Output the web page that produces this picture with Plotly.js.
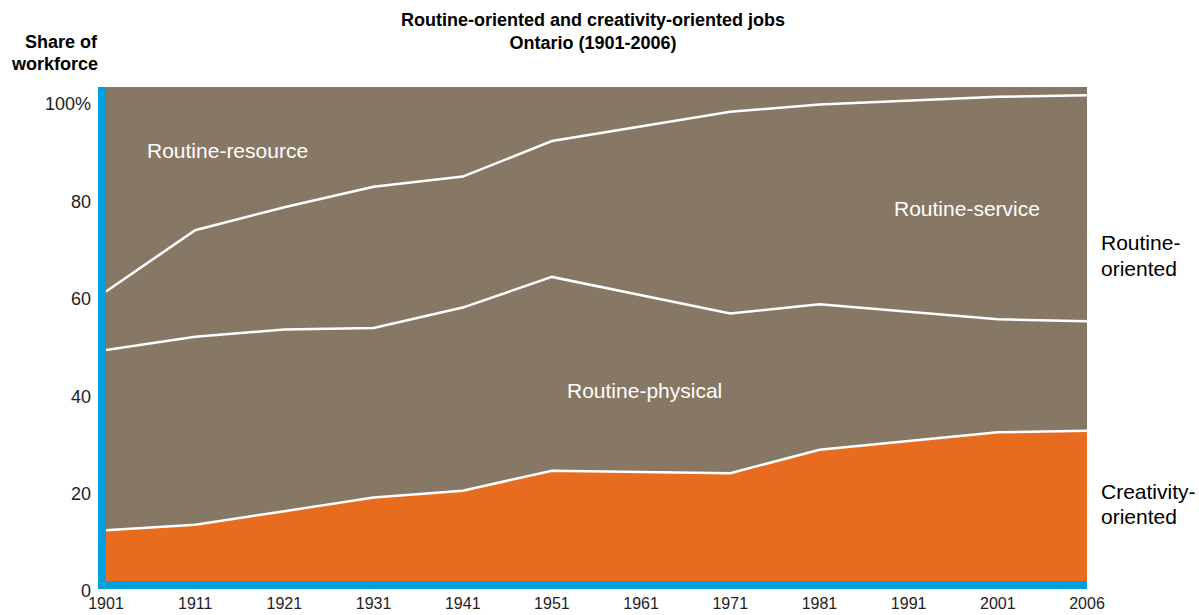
<!DOCTYPE html>
<html>
<head>
<meta charset="utf-8">
<script src="https://cdn.plot.ly/plotly-3.0.1.min.js"></script>
<style>
  html, body { margin: 0; padding: 0; background: #ffffff; }
  #chart { width: 1199px; height: 615px; }
</style>
</head>
<body>
<div id="chart"></div>
<script>
// Tick labels along the x axis (equally spaced census years)
var yearLabels = ['1901','1911','1921','1931','1941','1951','1961','1971','1981','1991','2001','2006'];
// Years with data points
var dataYears = ['1901','1911','1921','1931','1941','1951','1971','1981','2001','2006'];
// Shares of workforce (%), stacked from the bottom
var creativity = [12.5, 13.6, 16.4, 19.2, 20.6, 24.7, 24.2, 29.0, 32.6, 32.9];
var routinePhysical = [37.0, 38.6, 37.3, 34.8, 37.6, 39.8, 32.8, 29.9, 23.2, 22.5];
var routineService = [12.0, 21.9, 25.1, 29.0, 26.9, 27.9, 41.4, 41.0, 45.7, 46.4];
// y tick labels
var yTickVals = [0, 20, 40, 60, 80, 100];
var yTickText = ['0', '20', '40', '60', '80', '100%'];

var BROWN = '#877866';
var ORANGE = '#E86C1F';
var BLUE = '#009FDF';
var FONT = '"Liberation Sans", Arial, Helvetica, sans-serif';

var xPos = dataYears.map(function (y) { return yearLabels.indexOf(y); });

var lineStyle = { color: '#ffffff', width: 2.5, shape: 'linear' };

var traces = [
  { x: xPos, y: creativity, type: 'scatter', mode: 'lines', stackgroup: 'one',
    name: 'Creativity-oriented', fillcolor: ORANGE, line: lineStyle, hoverinfo: 'skip' },
  { x: xPos, y: routinePhysical, type: 'scatter', mode: 'lines', stackgroup: 'one',
    name: 'Routine-physical', fillcolor: 'rgba(0,0,0,0)', line: lineStyle, hoverinfo: 'skip' },
  { x: xPos, y: routineService, type: 'scatter', mode: 'lines', stackgroup: 'one',
    name: 'Routine-service', fillcolor: 'rgba(0,0,0,0)', line: lineStyle, hoverinfo: 'skip' }
];

var L = 106, R = 112, T = 87, B = 24, W = 1199, H = 615;
var PW = W - L - R, PH = H - T - B;
var YMAX = 103.5;
function px(x) { return (x - L) / PW; }
function py(y) { return (H - B - y) / PH; }
function vy(y) { return (H - B - y) * YMAX / PH; }

var barL = px(98);

var shapes = [
  { type: 'rect', xref: 'paper', yref: 'y', x0: barL, x1: 1, y0: 0, y1: vy(589),
    fillcolor: '#ffffff', line: { width: 0 }, layer: 'above' },
  { type: 'rect', xref: 'paper', yref: 'y', x0: barL, x1: 1, y0: vy(589), y1: vy(581),
    fillcolor: BLUE, line: { width: 0 }, layer: 'above' },
  { type: 'rect', xref: 'paper', yref: 'paper', x0: barL, x1: 0, y0: py(589), y1: 1,
    fillcolor: BLUE, line: { width: 0 }, layer: 'above' }
];

function ann(text, x, y, xa, size, color, bold) {
  return { text: bold ? '<b>' + text + '</b>' : text, xref: 'paper', yref: 'paper',
    x: px(x), y: py(y), xanchor: xa, yanchor: 'middle', showarrow: false,
    align: xa === 'right' ? 'right' : (xa === 'center' ? 'center' : 'left'),
    font: { family: FONT, size: size, color: color } };
}

var annotations = [
  ann('Routine-oriented and creativity-oriented jobs<br>Ontario (1901-2006)', 592.5, 32, 'center', 18, '#000000', true),
  ann('Share of', 100, 42, 'right', 18, '#000000', true),
  ann('workforce', 100, 64, 'right', 18, '#000000', true),
  ann('Routine-resource', 145, 150, 'left', 21, '#ffffff', false),
  ann('Routine-service', 892, 208, 'left', 21, '#ffffff', false),
  ann('Routine-physical', 565, 390, 'left', 21, '#ffffff', false),
  ann('Routine-', 1099, 242, 'left', 21, '#000000', false),
  ann('oriented', 1099, 268, 'left', 21, '#000000', false),
  ann('Creativity-', 1099, 491, 'left', 21, '#000000', false),
  ann('oriented', 1099, 516, 'left', 21, '#000000', false)
];

var layout = {
  width: W, height: H,
  margin: { l: L, r: R, t: T, b: B, pad: 0 },
  paper_bgcolor: '#ffffff',
  plot_bgcolor: BROWN,
  showlegend: false,
  xaxis: {
    range: [0, yearLabels.length - 1],
    tickmode: 'array',
    tickvals: yearLabels.map(function (_, i) { return i; }),
    ticktext: yearLabels,
    showgrid: false, zeroline: false, showline: false, ticks: '',
    tickfont: { family: FONT, size: 16, color: '#222222' },
    ticklabelstandoff: 1,
    fixedrange: true
  },
  yaxis: {
    range: [0, YMAX],
    tickmode: 'array',
    tickvals: yTickVals,
    ticktext: yTickText,
    showgrid: false, zeroline: false, showline: false, ticks: '',
    tickfont: { family: FONT, size: 18, color: '#222222' },
    ticklabelstandoff: 14,
    fixedrange: true
  },
  shapes: shapes,
  annotations: annotations
};

Plotly.newPlot('chart', traces, layout, { displayModeBar: false, staticPlot: true });
</script>
</body>
</html>
